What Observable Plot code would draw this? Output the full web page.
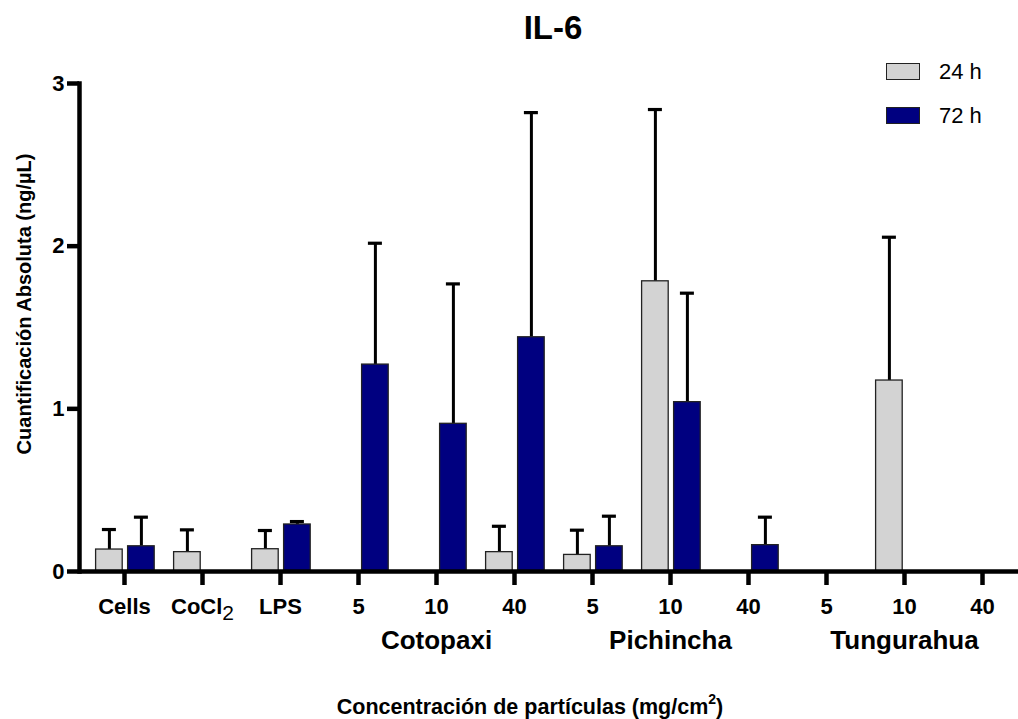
<!DOCTYPE html>
<html><head><meta charset="utf-8">
<script src="https://cdn.jsdelivr.net/npm/d3@7"></script>
<script src="https://cdn.jsdelivr.net/npm/@observablehq/plot@0.6"></script>
<style>
body{margin:0;background:#fff;font-family:"Liberation Sans",Arial,sans-serif;color:#000;}
#wrap{position:relative;width:1018px;height:719px;overflow:hidden;}
#title{position:absolute;left:453px;width:200px;top:11px;text-align:center;font-weight:bold;font-size:33px;line-height:33px;}
#chart{position:absolute;left:0;top:60px;}
#ylab{position:absolute;left:24px;top:304px;transform:translate(-50%,-50%) rotate(-90deg);white-space:nowrap;font-weight:bold;font-size:20px;line-height:20px;}
#xlab{position:absolute;left:330px;width:400px;top:697px;text-align:center;white-space:nowrap;font-weight:bold;font-size:21.5px;line-height:21.5px;}
#xlab sup{font-size:14px;line-height:0;position:relative;top:-2px;}
.leg{position:absolute;left:886px;width:34px;height:17px;box-sizing:border-box;border:1.5px solid #222;}
.legt{position:absolute;left:939px;font-size:22px;line-height:22px;white-space:nowrap;}
</style></head>
<body>
<div id="wrap">
  <div id="title">IL-6</div>
  <div id="chart"></div>
  <div id="ylab">Cuantificación Absoluta (ng/µL)</div>
  <div id="xlab">Concentración de partículas (mg/cm<sup>2</sup>)</div>
  <div class="leg" style="top:63px;background:#d3d3d3"></div>
  <div class="legt" style="top:61px">24 h</div>
  <div class="leg" style="top:107px;background:#000080"></div>
  <div class="legt" style="top:105px">72 h</div>
</div>
<script>
const categories = ["Cells","CoCl2","LPS","Cotopaxi 5","Cotopaxi 10","Cotopaxi 40","Pichincha 5","Pichincha 10","Pichincha 40","Tungurahua 5","Tungurahua 10","Tungurahua 40"];
const tickLabels = ["Cells","CoCl2","LPS","5","10","40","5","10","40","5","10","40"];
const groups = ["Cotopaxi","Pichincha","Tungurahua"];
const groupCenters = ["Cotopaxi 10","Pichincha 10","Tungurahua 10"];
const yTicks = [0, 1, 2, 3];
const series = ["24 h", "72 h"];
const mean24 = [0.135, 0.119, 0.137, null, null, 0.119, 0.102, 1.784, null, null, 1.174, null];
const err24  = [0.123, 0.137, 0.115, null, null, 0.159, 0.152, 1.056, null, null, 0.881, null];
const mean72 = [0.155, null, 0.289, 1.272, 0.908, 1.440, 0.155, 1.041, 0.162, null, null, null];
const err72  = [0.179, null, 0.018, 0.746, 0.860, 1.381, 0.185, 0.670, 0.172, null, null, null];

const labelOf = Object.fromEntries(categories.map((c, i) => [c, tickLabels[i]]));
const rows = (means, errs) => categories.map((c, i) => ({cat: c, v: means[i], hi: means[i] == null ? null : means[i] + errs[i]})).filter(d => d.v != null);
const r24 = rows(mean24, err24);
const r72 = rows(mean72, err72);
const groupRows = groups.map((g, i) => ({name: g, cat: groupCenters[i]}));

const barStroke = "#222";
const chart = Plot.plot({
  width: 1018, height: 620,
  marginTop: 23, marginBottom: 109, marginLeft: 79, marginRight: 0,
  style: {fontFamily: '"Liberation Sans", Arial, sans-serif', background: "transparent", overflow: "visible", color: "#000"},
  x: {domain: categories, padding: 0, insetLeft: 4, insetRight: -4, label: null},
  y: {domain: [0, 3], label: null},
  marks: [
    Plot.ruleX(r24, {x: "cat", y1: "v", y2: "hi", dx: -15.1, strokeWidth: 3, stroke: "#000"}),
    Plot.tickY(r24, {x: "cat", y: "hi", dx: -15.1, insetLeft: 32, insetRight: 32, strokeWidth: 3.2, stroke: "#000"}),
    Plot.ruleX(r72, {x: "cat", y1: "v", y2: "hi", dx: 16.9, strokeWidth: 3, stroke: "#000"}),
    Plot.tickY(r72, {x: "cat", y: "hi", dx: 16.9, insetLeft: 32, insetRight: 32, strokeWidth: 3.2, stroke: "#000"}),
    Plot.barY(r24, {x: "cat", y: "v", fill: "#d3d3d3", stroke: barStroke, strokeWidth: 1.3, insetLeft: 10.6, insetRight: 40.8}),
    Plot.barY(r72, {x: "cat", y: "v", fill: "#000080", stroke: barStroke, strokeWidth: 1.3, insetLeft: 42.6, insetRight: 8.8}),
    Plot.frame({anchor: "left", strokeWidth: 4.5, stroke: "#000"}),
    Plot.ruleY([0], {strokeWidth: 4.5, stroke: "#000"}),
    Plot.axisY({ticks: yTicks, tickSize: 12, tickPadding: 3, strokeWidth: 4.5, fontSize: 22, fontWeight: "bold", tickFormat: d => String(d), label: null}),
    Plot.axisX({tickSize: 14, tickPadding: 13, strokeWidth: 4.5, fontSize: 22, fontWeight: "bold", tickFormat: k => labelOf[k], label: null}),
    Plot.text(groupRows, {x: "cat", text: "name", frameAnchor: "bottom", dy: 77, fontSize: 26, fontWeight: "bold", fill: "#000"})
  ]
});
document.getElementById("chart").appendChild(chart);
d3.select(chart).selectAll("text").filter(function() { return this.textContent === "CoCl2" && this.children.length === 0; })
  .each(function() {
    const t = d3.select(this);
    t.text("CoCl");
    t.append("tspan").attr("dy", 6).attr("font-weight", "normal").attr("font-size", 21).text("2");
  });
</script>
</body></html>
